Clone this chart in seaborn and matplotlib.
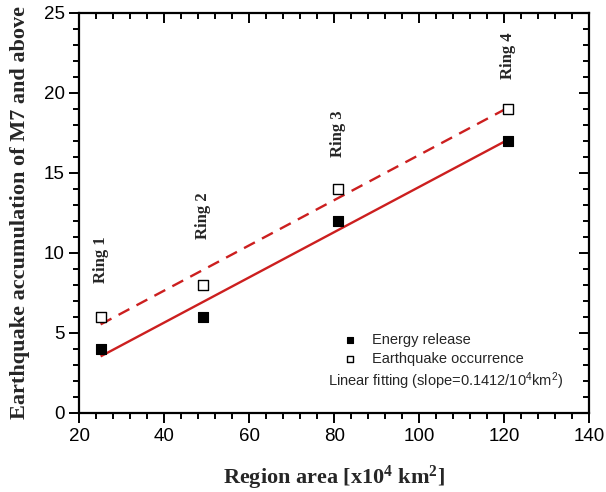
import numpy as np
import pandas as pd
import matplotlib
matplotlib.use("Agg")
import matplotlib.pyplot as plt
import seaborn as sns

# Region area of each ring (x10^4 km^2) and cumulative M7+ counts
area = [25, 49, 81, 121]
energy_release = [4, 6, 12, 17]
eq_occurrence = [6, 8, 14, 19]
ring_labels = ["Ring 1", "Ring 2", "Ring 3", "Ring 4"]
ring_label_y = [8.1, 10.9, 16.0, 20.9]

df = pd.DataFrame({"area": area, "energy": energy_release, "occur": eq_occurrence})

sns.set_theme(style="ticks")
plt.rcParams.update({
    "font.family": ["Liberation Sans", "DejaVu Sans"],
    "mathtext.default": "regular",
    "axes.linewidth": 1.6,
})

RED = "#cc1f1f"

fig = plt.figure(figsize=(6.06, 4.92), dpi=100)
ax = fig.add_axes([0.131, 0.1606, 0.841, 0.813])

# Linear fits (seaborn least squares, no confidence band)
sns.regplot(data=df, x="area", y="energy", scatter=False, ci=None, ax=ax,
            line_kws=dict(color=RED, lw=1.7, solid_capstyle="butt"))
sns.regplot(data=df, x="area", y="occur", scatter=False, ci=None, ax=ax,
            line_kws=dict(color=RED, lw=1.7, linestyle=(0, (5.2, 3.4))))

sns.scatterplot(data=df, x="area", y="energy", marker="s", s=44, color="black",
                edgecolor="black", linewidth=0.8, label="Energy release", ax=ax, zorder=5)
sns.scatterplot(data=df, x="area", y="occur", marker="s", s=44, facecolor="white",
                edgecolor="black", linewidth=1.0, label="Earthquake occurrence", ax=ax, zorder=5)

slope = np.polyfit(area, energy_release, 1)[0]

for xv, yv, lab in zip(area, ring_label_y, ring_labels):
    ax.text(xv, yv, lab, rotation=90, ha="center", va="bottom",
            family="Liberation Serif", fontweight="bold", fontsize=12)

ax.set_xlim(20, 140)
ax.set_ylim(0, 25)
ax.set_xticks(np.arange(20, 141, 20))
ax.set_yticks(np.arange(0, 26, 5))
ax.set_xticks(np.arange(20, 141, 4), minor=True)
ax.set_yticks(np.arange(0, 26, 1), minor=True)

ax.tick_params(which="both", labelsize=13.5, width=1.4, colors="black")
ax.tick_params(which="major", length=7, direction="out")
ax.tick_params(which="minor", length=4, direction="out")
# inward ticks on the opposite spines
ax.tick_params(which="both", top=True, right=True)
for tick in ax.xaxis.get_major_ticks() + ax.xaxis.get_minor_ticks():
    tick.tick2line.set_marker(3)
for tick in ax.yaxis.get_major_ticks() + ax.yaxis.get_minor_ticks():
    tick.tick2line.set_marker(0)

for sp in ax.spines.values():
    sp.set_visible(True)
    sp.set_color("black")

ax.set_xlabel(r"Region area [x10$^{4}$ km$^{2}$]", family="Liberation Serif",
              fontweight="bold", fontsize=16, labelpad=14)
ax.set_ylabel("Earthquake accumulation of M7 and above", family="Liberation Serif",
              fontweight="bold", fontsize=16, labelpad=10)

leg = ax.legend(loc="upper left", bbox_to_anchor=(0.505, 0.215), frameon=False,
                fontsize=10.5, handlelength=1.0, handletextpad=1.0,
                labelspacing=0.35, borderaxespad=0, markerscale=0.75)
ax.text(0.487, 0.08, "Linear fitting (slope=%.4f/10$^{4}$km$^{2}$)" % slope,
        transform=ax.transAxes, fontsize=10.5, ha="left", va="center")

fig.savefig("out.png", dpi=100)
